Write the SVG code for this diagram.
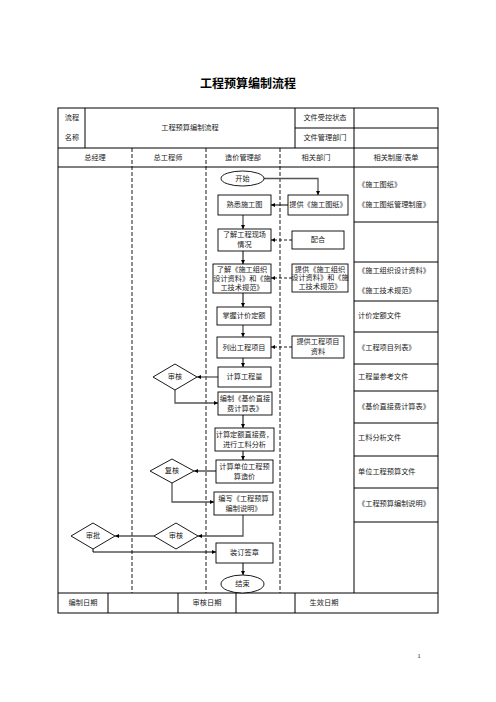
<svg xmlns="http://www.w3.org/2000/svg" width="496" height="702" viewBox="0 0 496 702">
<defs>
<marker id="ah" viewBox="0 0 10 10" refX="10" refY="5" markerWidth="4" markerHeight="4" orient="auto" markerUnits="userSpaceOnUse">
<path d="M0,0 L10,5 L0,10 z" fill="#000"/>
</marker>
<style>
text{font-family:"Liberation Serif","Noto Sans CJK SC",serif;font-size:7.2px;fill:#222;text-anchor:middle;dominant-baseline:central}
.l{text-anchor:start}
.t{font-size:12px;font-weight:bold;fill:#000}
.grid{stroke:#000;stroke-width:1;fill:none}
.lane{stroke:#000;stroke-width:0.9;stroke-dasharray:4,2;fill:none}
.box{fill:#fff;stroke:#000;stroke-width:0.9}
.c{fill:none;stroke:#000;stroke-width:1;marker-end:url(#ah)}
.cg{fill:none;stroke:#555;stroke-width:1.3;marker-end:url(#ah)}
.d{fill:none;stroke:#000;stroke-width:0.9;stroke-dasharray:3,2;marker-end:url(#ah)}
</style>
</defs>
<rect width="496" height="702" fill="#fff"/>
<text class="t" x="248" y="84">工程预算编制流程</text>

<g id="table">
<rect class="grid" x="58" y="108" width="380" height="505"/>
<line class="grid" x1="85" y1="108" x2="85" y2="148"/>
<line class="grid" x1="295" y1="108" x2="295" y2="148"/>
<line class="grid" x1="354" y1="108" x2="354" y2="593"/>
<line class="grid" x1="295" y1="128" x2="438" y2="128"/>
<line class="grid" x1="58" y1="148" x2="438" y2="148"/>
<line class="grid" x1="58" y1="167" x2="438" y2="167"/>
<line class="grid" x1="58" y1="593" x2="438" y2="593"/>
<line class="grid" x1="108" y1="593" x2="108" y2="613"/>
<line class="grid" x1="178" y1="593" x2="178" y2="613"/>
<line class="grid" x1="236" y1="593" x2="236" y2="613"/>
<line class="grid" x1="295" y1="593" x2="295" y2="613"/>
<line class="grid" x1="354" y1="222" x2="438" y2="222"/>
<line class="grid" x1="354" y1="262" x2="438" y2="262"/>
<line class="grid" x1="354" y1="301" x2="438" y2="301"/>
<line class="grid" x1="354" y1="332" x2="438" y2="332"/>
<line class="grid" x1="354" y1="364" x2="438" y2="364"/>
<line class="grid" x1="354" y1="391" x2="438" y2="391"/>
<line class="grid" x1="354" y1="423" x2="438" y2="423"/>
<line class="grid" x1="354" y1="456" x2="438" y2="456"/>
<line class="grid" x1="354" y1="488" x2="438" y2="488"/>
<line class="grid" x1="354" y1="522" x2="438" y2="522"/>
<line class="lane" x1="132" y1="148" x2="132" y2="593"/>
<line class="lane" x1="206" y1="148" x2="206" y2="593"/>
<line class="lane" x1="280" y1="148" x2="280" y2="593"/>
<text x="72" y="118">流程</text>
<text x="72" y="138">名称</text>
<text x="190" y="128">工程预算编制流程</text>
<text x="325" y="118">文件受控状态</text>
<text x="325" y="138">文件管理部门</text>
<text x="95" y="157.5">总经理</text>
<text x="168" y="157.5">总工程师</text>
<text x="243" y="157.5">造价管理部</text>
<text x="316" y="157.5">相关部门</text>
<text x="396" y="157.5">相关制度/表单</text>
<text x="83" y="603">编制日期</text>
<text x="207" y="603">审核日期</text>
<text x="324" y="603">生效日期</text>
<text class="l" x="358" y="185">《施工图纸》</text>
<text class="l" x="358" y="205">《施工图纸管理制度》</text>
<text class="l" x="358" y="271">《施工组织设计资料》</text>
<text class="l" x="358" y="291">《施工技术规范》</text>
<text class="l" x="358" y="316">计价定额文件</text>
<text class="l" x="358" y="348">《工程项目列表》</text>
<text class="l" x="358" y="377">工程量参考文件</text>
<text class="l" x="358" y="407">《基价直接费计算表》</text>
<text class="l" x="358" y="438">工料分析文件</text>
<text class="l" x="358" y="472">单位工程预算文件</text>
<text class="l" x="358" y="504">《工程预算编制说明》</text>
</g>

<g id="connectors">
<path class="cg" d="M264,178.5 H318 V195"/>
<path class="c" d="M288,205 H271"/>
<path class="cg" d="M243,215 V229"/>
<path class="d" d="M292,240 H271"/>
<path class="c" d="M243,251 V264"/>
<path class="d" d="M292,278 H271"/>
<path class="c" d="M243,293 V307"/>
<path class="cg" d="M243,325 V337"/>
<path class="d" d="M292,347 H271"/>
<path class="c" d="M243,358 V367"/>
<path class="cg" d="M218,377 H197"/>
<path class="cg" d="M175,390 V403 H218"/>
<path class="c" d="M243,415 V428"/>
<path class="c" d="M243,451 V460"/>
<path class="c" d="M216,471 H194"/>
<path class="cg" d="M172,483 V502 H214"/>
<path class="cg" d="M243,515 V536 H198"/>
<path class="cg" d="M154,536 H115"/>
<path class="c" d="M93,549 V552 H216"/>
<path class="c" d="M243,563 V575"/>
</g>

<g id="n-start"><ellipse class="box" cx="242.5" cy="178.5" rx="21.5" ry="7.5"/><text x="242.5" y="178.5">开始</text></g>
<g id="n-familiar"><rect class="box" x="218" y="195" width="53" height="20"/><text x="244.5" y="205">熟悉施工图</text></g>
<g id="n-site"><rect class="box" x="218" y="229" width="53" height="22"/><text x="244.5" y="235">了解工程现场</text><text x="244.5" y="245">情况</text></g>
<g id="n-learn"><rect class="box" x="213" y="264" width="58" height="29"/><text x="242" y="269.5">了解《施工组织</text><text x="242" y="278.5">设计资料》和《施</text><text x="242" y="287.5">工技术规范》</text></g>
<g id="n-quota"><rect class="box" x="217" y="307" width="54" height="18"/><text x="244" y="316">掌握计价定额</text></g>
<g id="n-items"><rect class="box" x="217" y="337" width="54" height="21"/><text x="244" y="347.5">列出工程项目</text></g>
<g id="n-qty"><rect class="box" x="218" y="367" width="53" height="20"/><text x="244.5" y="377">计算工程量</text></g>
<g id="n-table"><rect class="box" x="218" y="392" width="54" height="23"/><text x="245" y="398.5">编制《基价直接</text><text x="245" y="408.5">费计算表》</text></g>
<g id="n-direct"><rect class="box" x="215" y="428" width="59" height="23"/><text x="244.5" y="434.5">计算定额直接费，</text><text x="244.5" y="444.5">进行工料分析</text></g>
<g id="n-unit"><rect class="box" x="216" y="460" width="57" height="23"/><text x="244.5" y="466.5">计算单位工程预</text><text x="244.5" y="476.5">算造价</text></g>
<g id="n-write"><rect class="box" x="214" y="492" width="59" height="23"/><text x="243.5" y="498.5">编写《工程预算</text><text x="243.5" y="508.5">编制说明》</text></g>
<g id="n-bind"><rect class="box" x="216" y="543" width="57" height="20"/><text x="244.5" y="553">装订签章</text></g>
<g id="n-end"><ellipse class="box" cx="242.5" cy="584" rx="21.5" ry="9"/><text x="242.5" y="584">结束</text></g>

<g id="n-drawings"><rect class="box" x="288" y="195" width="60" height="20"/><text x="318" y="205">提供《施工图纸》</text></g>
<g id="n-coop"><rect class="box" x="292" y="231" width="52" height="18"/><text x="318" y="240">配合</text></g>
<g id="n-provide"><rect class="box" x="292" y="264" width="56" height="28"/><text x="320" y="269.5">提供《施工组织</text><text x="320" y="278">设计资料》和《施</text><text x="320" y="286.5">工技术规范》</text></g>
<g id="n-provitems"><rect class="box" x="292" y="336" width="52" height="22"/><text x="318" y="342">提供工程项目</text><text x="318" y="352">资料</text></g>

<g id="d-review1"><polygon class="box" points="153,377 175,364 197,377 175,390"/><text x="175" y="377">审核</text></g>
<g id="d-recheck"><polygon class="box" points="150,471 172,459 194,471 172,483"/><text x="172" y="471">复核</text></g>
<g id="d-review2"><polygon class="box" points="154,536 176,523 198,536 176,549"/><text x="176" y="536">审核</text></g>
<g id="d-approve"><polygon class="box" points="71,536 93,523 115,536 93,549"/><text x="93" y="536">审批</text></g>

<text x="419" y="656" style="font-size:7px">1</text>
</svg>
